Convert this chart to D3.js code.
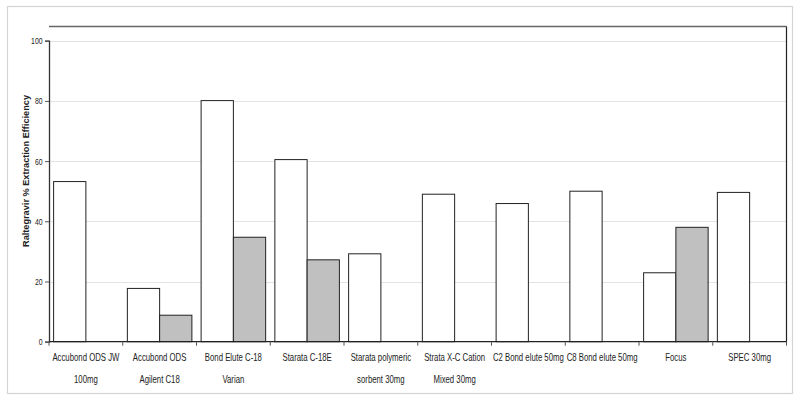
<!DOCTYPE html>
<html>
<head>
<meta charset="utf-8">
<script src="https://cdn.jsdelivr.net/npm/d3@7"></script>
<style>
  html, body { margin: 0; padding: 0; background: #fff; }
  svg { display: block; }
  text { font-family: "Liberation Sans", Arial, sans-serif; }
</style>
</head>
<body>
<svg id="chart" width="800" height="401"></svg>
<script>
const categories = [
  ["Accubond ODS JW", "100mg"],
  ["Accubond ODS", "Agilent C18"],
  ["Bond Elute C-18", "Varian"],
  ["Starata C-18E"],
  ["Starata polymeric", "sorbent 30mg"],
  ["Strata X-C Cation", "Mixed 30mg"],
  ["C2 Bond elute 50mg"],
  ["C8 Bond elute 50mg"],
  ["Focus"],
  ["SPEC 30mg"]
];
const seriesA = [53.2, 17.7, 80.1, 60.5, 29.2, 49.0, 45.9, 50.0, 22.9, 49.6];
const seriesB = [null, 8.8, 34.7, 27.2, null, null, null, null, 38.0, null];
const yTicks = [0, 20, 40, 60, 80, 100];
const yLabel = "Raltegravir % Extraction Efficiency";

const svg = d3.select("#chart");
const mLeft = 49, mRight = 786.5, mTop = 26.5, mBottom = 341.7;
const narrow = 0.72;

// outer border
svg.append("rect").attr("x", 7.5).attr("y", 6.5).attr("width", 785).attr("height", 387)
  .attr("fill", "none").attr("stroke", "#d4d4d4").attr("stroke-width", 1.2);

const x = d3.scaleBand().domain(d3.range(categories.length)).range([mLeft, mRight]).padding(0);
const y = d3.scaleLinear().domain([0, 100]).range([mBottom, mBottom - 301]);

// gridlines
svg.append("g").selectAll("line").data(yTicks.filter(d => d > 0)).join("line")
  .attr("x1", mLeft).attr("x2", mRight)
  .attr("y1", d => Math.round(y(d)) + 0.5).attr("y2", d => Math.round(y(d)) + 0.5)
  .attr("stroke", "#e3e3e3").attr("stroke-width", 1);

// plot frame top & right
svg.append("line").attr("x1", mLeft).attr("x2", mRight).attr("y1", mTop).attr("y2", mTop)
  .attr("stroke", "#666").attr("stroke-width", 1.3);
svg.append("line").attr("x1", mRight).attr("x2", mRight).attr("y1", mTop).attr("y2", mBottom)
  .attr("stroke", "#222").attr("stroke-width", 1.2);

const bw = x.bandwidth();
const barW = bw * 0.4375;
const off = (bw - 2 * barW) / 2;

const g = svg.append("g");
g.selectAll("rect.a").data(seriesA).join("rect").attr("class", "a")
  .attr("x", (d, i) => x(i) + off)
  .attr("y", d => y(d))
  .attr("width", barW)
  .attr("height", d => y(0) - y(d))
  .attr("fill", "#ffffff").attr("stroke", "#222").attr("stroke-width", 1);
g.selectAll("rect.b").data(seriesB.map((v, i) => ({v, i})).filter(d => d.v != null)).join("rect").attr("class", "b")
  .attr("x", d => x(d.i) + off + barW)
  .attr("y", d => y(d.v))
  .attr("width", barW)
  .attr("height", d => y(0) - y(d.v))
  .attr("fill", "#c0c0c0").attr("stroke", "#222").attr("stroke-width", 1);

// y axis
const yAxis = d3.axisLeft(y).tickValues(yTicks).tickSize(4).tickFormat(() => "");
const ya = svg.append("g").attr("transform", `translate(${mLeft},0)`).call(yAxis);
ya.select(".domain").attr("stroke", "#333").attr("stroke-width", 1.3);
ya.selectAll(".tick line").attr("stroke", "#555");
svg.append("g").selectAll("g").data(yTicks).join("g")
  .attr("transform", d => `translate(${mLeft - 6.5},${y(d)}) scale(0.7,1)`)
  .append("text")
  .attr("text-anchor", "end").attr("dy", "0.35em")
  .attr("font-size", 9.8).attr("fill", "#222")
  .text(d => d);

// x axis
const xa = svg.append("g").attr("transform", `translate(0,${mBottom})`);
xa.append("line").attr("x1", mLeft).attr("x2", mRight).attr("y1", 0).attr("y2", 0)
  .attr("stroke", "#222").attr("stroke-width", 1.3);
xa.selectAll("line.t").data(d3.range(categories.length + 1)).join("line").attr("class", "t")
  .attr("x1", i => mLeft + i * bw).attr("x2", i => mLeft + i * bw)
  .attr("y1", 0).attr("y2", 4).attr("stroke", "#555");
const lbl = xa.selectAll("g.c").data(categories).join("g").attr("class", "c")
  .attr("transform", (d, i) => `translate(${x(i) + bw / 2},19) scale(${narrow},1)`)
  .append("text")
  .attr("x", 0).attr("y", 0)
  .attr("text-anchor", "middle")
  .attr("font-size", 10.8).attr("fill", "#222");
lbl.selectAll("tspan").data(d => d).join("tspan")
  .attr("x", 0)
  .attr("dy", (d, j) => j === 0 ? 0 : 22.5)
  .text(d => d);

// y label
svg.append("text")
  .attr("transform", `translate(28.5,171) rotate(-90)`)
  .attr("text-anchor", "middle")
  .attr("font-size", 8.2).attr("font-weight", "bold").attr("fill", "#222")
  .attr("textLength", 152).attr("lengthAdjust", "spacingAndGlyphs")
  .text(yLabel);
</script>
</body>
</html>
